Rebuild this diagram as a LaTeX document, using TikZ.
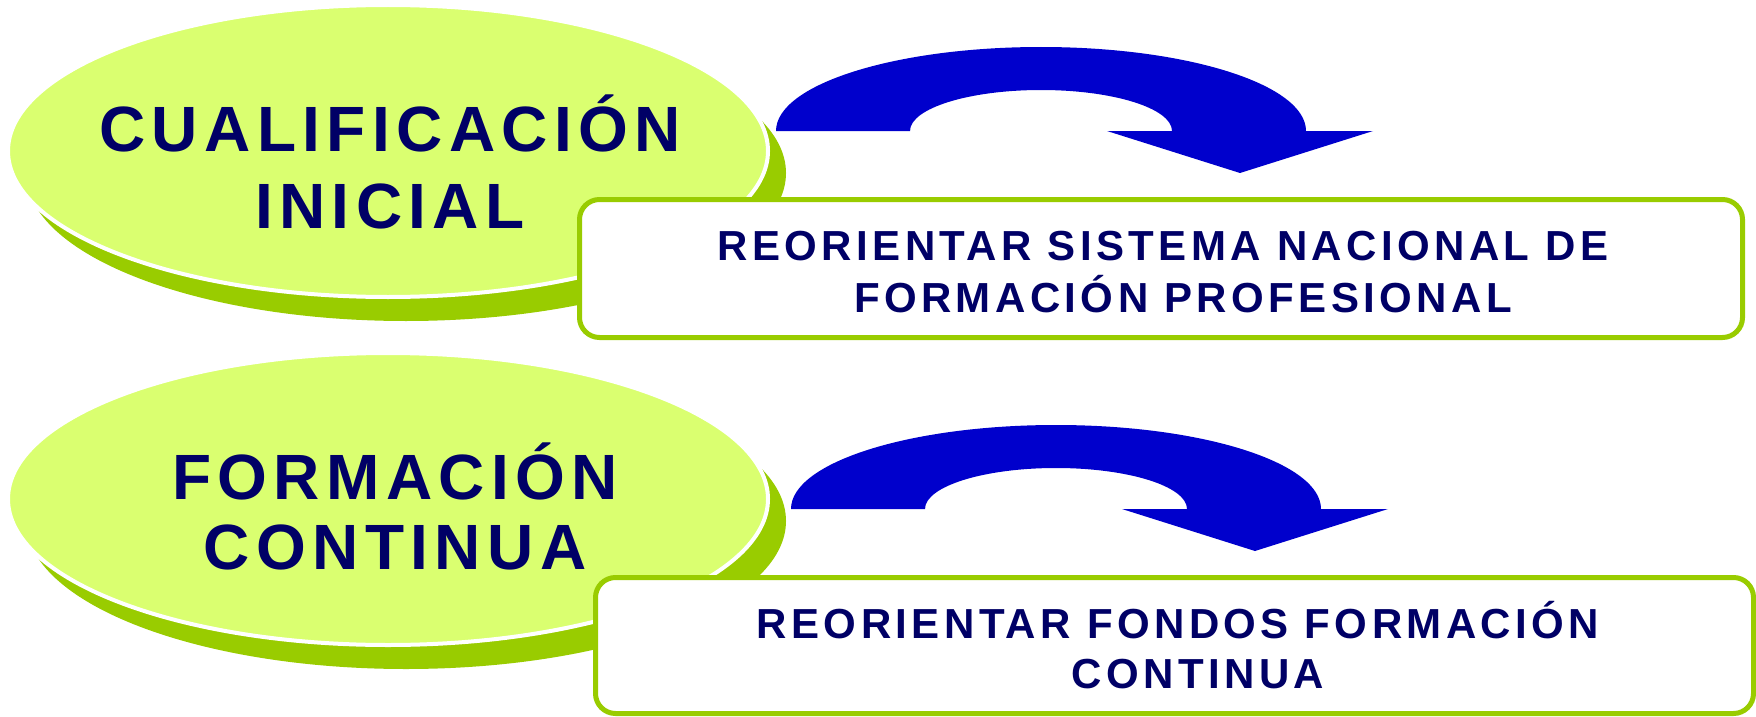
\documentclass[tikz,border=0pt]{standalone}
\usepackage{fontspec}
\newfontfamily\ellfont{Liberation Sans}[LetterSpace=10]
\newfontfamily\boxfont{Liberation Sans}[LetterSpace=10.5]
\definecolor{lightgreen}{HTML}{DAFF70}
\definecolor{darkgreen}{HTML}{99CC00}
\definecolor{arrowblue}{HTML}{0000CC}
\definecolor{navytext}{HTML}{000066}
\tikzset{
  shadowell/.style={fill=darkgreen},
  lightell/.style={fill=lightgreen, draw=white, line width=4pt},
  ovaltext/.style={anchor=base, inner sep=0pt, text=navytext, font=\ellfont\bfseries},
  boxtext/.style={anchor=base, inner sep=0pt, text=navytext, font=\boxfont\bfseries\fontsize{42}{50}\selectfont},
  framebox/.style={draw=darkgreen, line width=5pt, fill=white, rounded corners=20pt, inner sep=0pt},
  curvedarrow/.pic={
    \fill[arrowblue] (-265,0) .. controls (-265,-46.4) and (-146.4,-84) .. (0,-84)
      .. controls (146.4,-84) and (265,-46.4) .. (265,0)
      -- (332,0) -- (199,42) -- (66,0) -- (131,0)
      .. controls (131,-22.6) and (72.4,-41) .. (0,-41)
      .. controls (-72.4,-41) and (-131,-22.6) .. (-131,0) -- cycle;
  }
}
\begin{document}
\begin{tikzpicture}[x=1pt,y=-1pt]
\useasboundingbox (0,0) rectangle (1756,717);
% group 1
\path[shadowell] (406,173) ellipse [x radius=380pt, y radius=148pt];
\path[lightell] (388,151) ellipse [x radius=380pt, y radius=146pt];
\node[ovaltext] (oval1) at (390,151) {\fontsize{64}{77}\selectfont\begin{tabular}[t]{@{}c@{}}CUALIFICACIÓN\\INICIAL\end{tabular}};
\pic (arrowA) at (1041,131) {curvedarrow};
\node[framebox, minimum width=1163pt, minimum height=138pt] (box1) at (1161,268.5) {};
\node[boxtext] (box1text) at (1163,260) {\begin{tabular}[t]{@{}c@{}}REORIENTAR SISTEMA NACIONAL DE\\\hspace*{40pt}FORMACIÓN PROFESIONAL\end{tabular}};
% group 2
\path[shadowell] (406,521) ellipse [x radius=380pt, y radius=148pt];
\path[lightell] (388,499) ellipse [x radius=380pt, y radius=146pt];
\node[ovaltext] (oval2) at (395,499) {\fontsize{64}{70}\selectfont\begin{tabular}[t]{@{}c@{}}FORMACIÓN\\CONTINUA\end{tabular}};
\pic (arrowB) at (1056,509) {curvedarrow};
\node[framebox, minimum width=1158pt, minimum height=136pt] (box2) at (1174.5,645.5) {};
\node[boxtext] (box2text) at (1178,638) {\begin{tabular}[t]{@{}c@{}}REORIENTAR FONDOS FORMACIÓN\\\hspace*{40pt}CONTINUA\end{tabular}};
\end{tikzpicture}
\end{document}
